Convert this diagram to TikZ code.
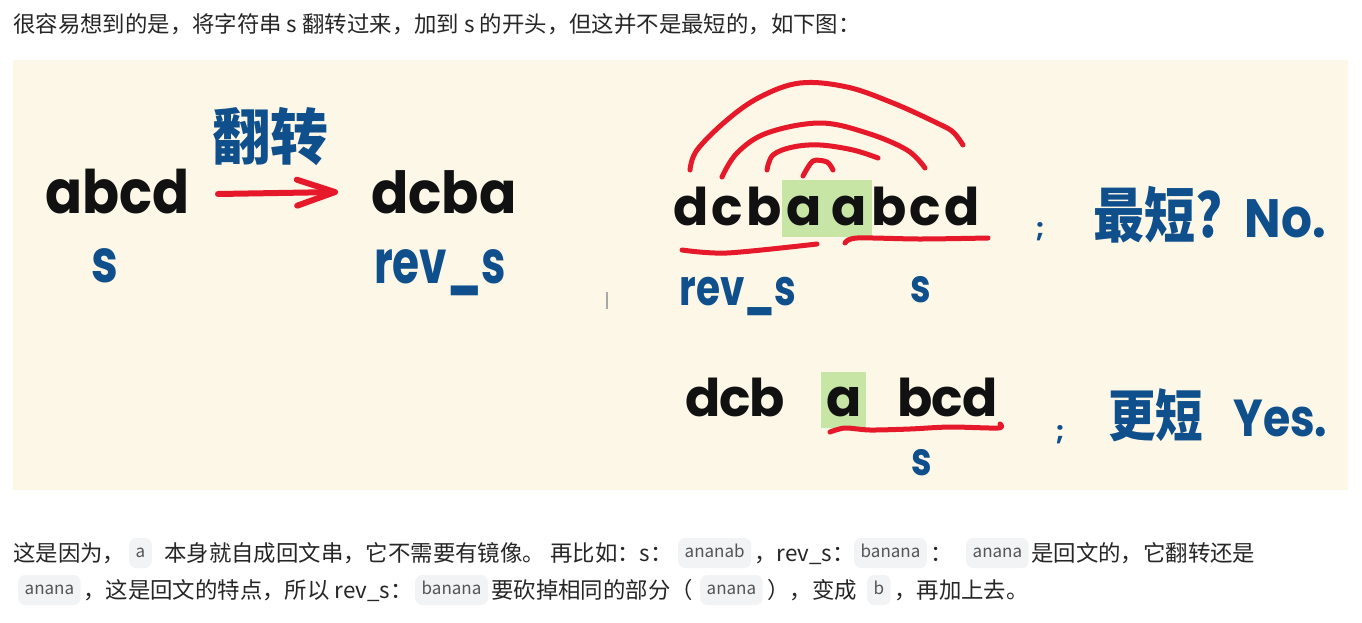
\documentclass[tikz,border=0pt]{standalone}
\usepackage{fontspec}
\setmainfont{Noto Sans CJK SC}
\newfontfamily\bodyfont{Noto Sans CJK SC}
\newfontfamily\handfont[RawFeature=+ss01]{Poppins}
\newfontfamily\bluefont{Poppins}
\usetikzlibrary{arrows.meta}
\definecolor{panel}{HTML}{FDF7E7}
\definecolor{ink}{HTML}{111111}
\definecolor{blu}{HTML}{0E4F8C}
\definecolor{hred}{HTML}{E6192B}
\definecolor{hl}{HTML}{C7E6A6}
\definecolor{bodytext}{HTML}{262626}
\definecolor{chipbg}{HTML}{F2F3F5}
\definecolor{chiptext}{HTML}{555555}
\definecolor{cursorc}{HTML}{A8A8A8}
\newcommand\bodyf{\bodyfont\fontsize{22.4}{26}\selectfont}
\newcommand\chipf{\bodyfont\fontsize{17}{20}\selectfont}
\newcommand\hlbox[4]{{\setlength{\fboxsep}{0pt}\colorbox{hl}{\rule[-#2]{0pt}{#3}\kern#4#1\kern#4}}}
\tikzset{
  hand/.style={inner sep=0pt, text=ink, font=\handfont\bfseries},
  bluehand/.style={inner sep=0pt, text=blu, font=\bluefont\bfseries},
  bluecjk/.style={inner sep=0pt, text=blu, font=\bodyfont\bfseries},
  redstroke/.style={draw=hred, line width=5pt, line cap=round, line join=round},
  body/.style={inner sep=0pt, anchor=base west, text=bodytext, font=\bodyf},
  chip/.style={fill=chipbg, rounded corners=7pt, inner xsep=6.5pt, inner ysep=0pt,
    text height=12pt, text depth=4pt, minimum height=30pt, text=chiptext,
    font=\chipf, anchor=west},
}
\begin{document}
\begin{tikzpicture}[x=1pt,y=-1pt]
\useasboundingbox (0,0) rectangle (1362,622);
\fill[white] (0,0) rectangle (1362,622);
% intro line
\node[body] (intro) at (13,32) {很容易想到的是，将字符串 s 翻转过来，加到 s 的开头，但这并不是最短的，如下图：};
% panel
\fill[panel] (13,60) rectangle (1348,490);

% ---- left part
\node[hand, anchor=base west] (abcd) at (45,213) {\fontsize{60}{60}\selectfont\scalebox{0.91}[1]{abcd}};
\node[hand, anchor=base west] (dcba) at (371,213) {\fontsize{58}{58}\selectfont\scalebox{0.95}[1]{dcba}};
\node[bluecjk] (fanzhuan) at (270,137) {\fontsize{58}{58}\selectfont\scalebox{1}[1.05]{翻转}};
\node[bluehand, anchor=base] (sL) at (105,282) {\fontsize{60}{60}\selectfont\scalebox{0.8}[1]{s}};
\node[bluehand, anchor=base] (revL) at (440,283) {\fontsize{60}{60}\selectfont\scalebox{0.73}[1]{rev\_s}};
\coordinate (arrS) at (218,194);
\coordinate (arrE) at (338,192);
\draw[redstroke, line width=6pt, -{Straight Barb[length=38pt,width=26pt,round]}] (arrS) -- (arrE);

% cursor mark
\fill[cursorc] (605.5,292) rectangle (607.5,309);

% ---- right part, row 1
\node[hand, anchor=base west] (row1) at (673,225) {\fontsize{52}{52}\selectfont\addfontfeature{LetterSpace=6}dcb\hlbox{\addfontfeature{LetterSpace=20}aa}{12pt}{57pt}{4.5pt}bcd};
\draw[redstroke] plot[smooth, tension=0.6] coordinates {(690,170) (697,150) (727,120) (760,97) (800,83) (847,87) (893,103) (937,123) (953,132) (963,145)};
\draw[redstroke] plot[smooth, tension=0.6] coordinates {(722,177) (737,153) (767,133) (820,123) (867,133) (907,150) (925,168)};
\draw[redstroke] plot[smooth, tension=0.6] coordinates {(767,170) (773,155) (793,147) (820,145) (853,150) (878,158)};
\draw[redstroke] plot[smooth, tension=0.5] coordinates {(803,176) (813,161) (827,162) (833,170)};
\draw[redstroke] plot[smooth, tension=0.5] coordinates {(682,250) (727,253) (817,244)};
\draw[redstroke] plot[smooth, tension=0.5] coordinates {(845,243) (857,238) (920,239) (988,238)};
\node[bluehand, anchor=base] (revR) at (738,305) {\fontsize{50}{50}\selectfont\scalebox{0.78}[1]{rev\_s}};
\node[bluehand, anchor=base] (sR1) at (921,302) {\fontsize{46}{46}\selectfont\scalebox{0.8}[1]{s}};
\node[bluehand, anchor=base] (semi1) at (1040,237) {\fontsize{26}{26}\selectfont ;};
\node[bluecjk, anchor=base west] (no) at (1093,237) {\fontsize{60}{60}\selectfont\scalebox{0.85}[1]{最短?}\hspace{22pt}{\bluefont\bfseries\fontsize{54}{54}\selectfont\scalebox{0.9}[1]{No.}}};

% ---- right part, row 2
\node[hand, anchor=base west] (row2) at (685,416) {\fontsize{52}{52}\selectfont\addfontfeature{LetterSpace=-2}dcb\hspace{26pt} \hlbox{a}{12pt}{56pt}{5pt}\hspace{21pt} bcd};
\draw[redstroke] plot[smooth, tension=0.5] coordinates {(830,432) (845,428) (870,430) (910,429) (950,427) (998,428) (1000,424)};
\node[bluehand, anchor=base] (sR2) at (922,475) {\fontsize{46}{46}\selectfont\scalebox{0.8}[1]{s}};
\node[bluehand, anchor=base] (semi2) at (1060,440) {\fontsize{26}{26}\selectfont ;};
\node[bluecjk, anchor=base west] (yes) at (1108,436) {\fontsize{56}{56}\selectfont\scalebox{0.85}[1]{更短}\hspace{30pt}{\bluefont\bfseries\fontsize{52}{52}\selectfont\scalebox{0.85}[1]{Yes.}}};

% ---- body text line 1
\node[body] (a1) at (13,561) {这是因为，};
\node[chip] (c1) at (129,553) {a};
\node[body] (a2) at (164,561) {本身就自成回文串，它不需要有镜像。};
\node[body] (a3) at (550,561) {再比如：s：};
\node[chip] (c2) at (678,553) {ananab};
\node[body] (a4) at (754,561) {，rev\_s：};
\node[chip] (c3) at (854,553) {banana};
\node[body] (a5) at (930,561) {：};
\node[chip] (c4) at (966,553) {anana};
\node[body] (a6) at (1031,561) {是回文的，它翻转还是};
% ---- body text line 2
\node[chip] (c5) at (18,590) {anana};
\node[body] (b1) at (83,598) {，这是回文的特点，所以 rev\_s：};
\node[chip] (c6) at (415,590) {banana};
\node[body] (b2) at (491,598) {要砍掉相同的部分（};
\node[chip] (c7) at (700,590) {anana};
\node[body] (b3) at (767,598) {），变成};
\node[chip] (c8) at (867,590) {b};
\node[body] (b4) at (894,598) {，再加上去。};
\end{tikzpicture}
\end{document}
